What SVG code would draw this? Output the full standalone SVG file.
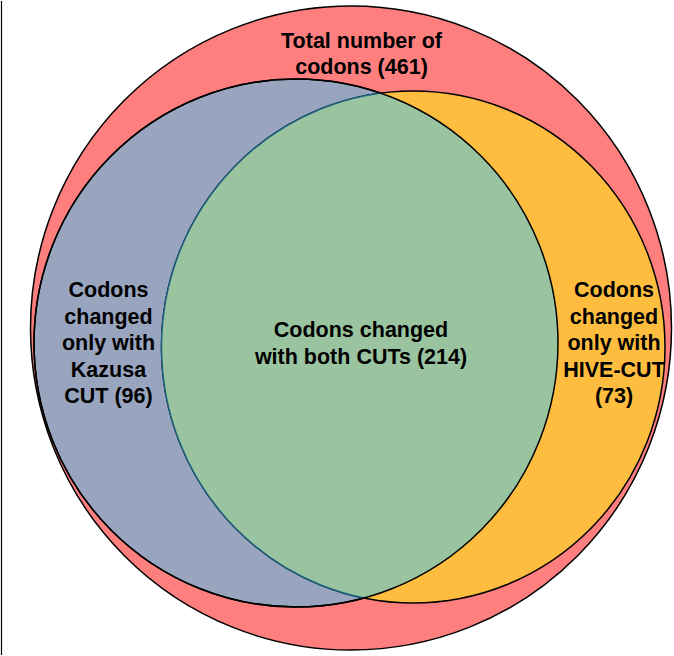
<svg xmlns="http://www.w3.org/2000/svg" width="674" height="656" viewBox="0 0 674 656">
  <style>
    .lbl { font-family: "Liberation Sans", Arial, sans-serif; font-size: 21.5px; font-weight: bold; fill: #000; text-anchor: middle; }
    .edge { stroke: #000; stroke-width: 1.5; }
  </style>
  <defs>
    <clipPath id="clipBlue">
      <ellipse cx="296" cy="343" rx="262" ry="264"/>
    </clipPath>
  </defs>
  <rect x="0" y="0" width="674" height="656" fill="#fff"/>
  <line x1="1.5" y1="1" x2="1.5" y2="655" stroke="#000" stroke-width="1.2"/>
  <g id="total">
    <ellipse class="edge" cx="351" cy="328" rx="320.5" ry="322" fill="#ff7f7f"/>
  </g>
  <g id="kazusa">
    <ellipse class="edge" cx="296" cy="343" rx="262" ry="264" fill="#99a5bf"/>
  </g>
  <g id="hive">
    <ellipse class="edge" cx="413.25" cy="347" rx="251.75" ry="256" fill="#ffbd3f"/>
  </g>
  <g id="both">
    <ellipse cx="413.25" cy="347" rx="251.75" ry="256" fill="#99c49f" stroke="#1c6080" stroke-width="1.5" clip-path="url(#clipBlue)"/>
    <ellipse class="edge" cx="296" cy="343" rx="262" ry="264" fill="none"/>
  </g>
  <g id="labels">
    <text class="lbl" x="361.5" y="47.5">Total number of</text>
    <text class="lbl" x="361.5" y="74">codons (461)</text>
    <text class="lbl" x="361" y="337">Codons changed</text>
    <text class="lbl" x="361" y="363.5">with both CUTs (214)</text>
    <text class="lbl" x="108.5" y="297">Codons</text>
    <text class="lbl" x="108.5" y="323.5">changed</text>
    <text class="lbl" x="108.5" y="350">only with</text>
    <text class="lbl" x="108.5" y="376.5">Kazusa</text>
    <text class="lbl" x="108.5" y="403">CUT (96)</text>
    <text class="lbl" x="614" y="297">Codons</text>
    <text class="lbl" x="614" y="323.5">changed</text>
    <text class="lbl" x="614" y="350">only with</text>
    <text class="lbl" x="614" y="376.5">HIVE-CUT</text>
    <text class="lbl" x="614" y="403">(73)</text>
  </g>
</svg>
